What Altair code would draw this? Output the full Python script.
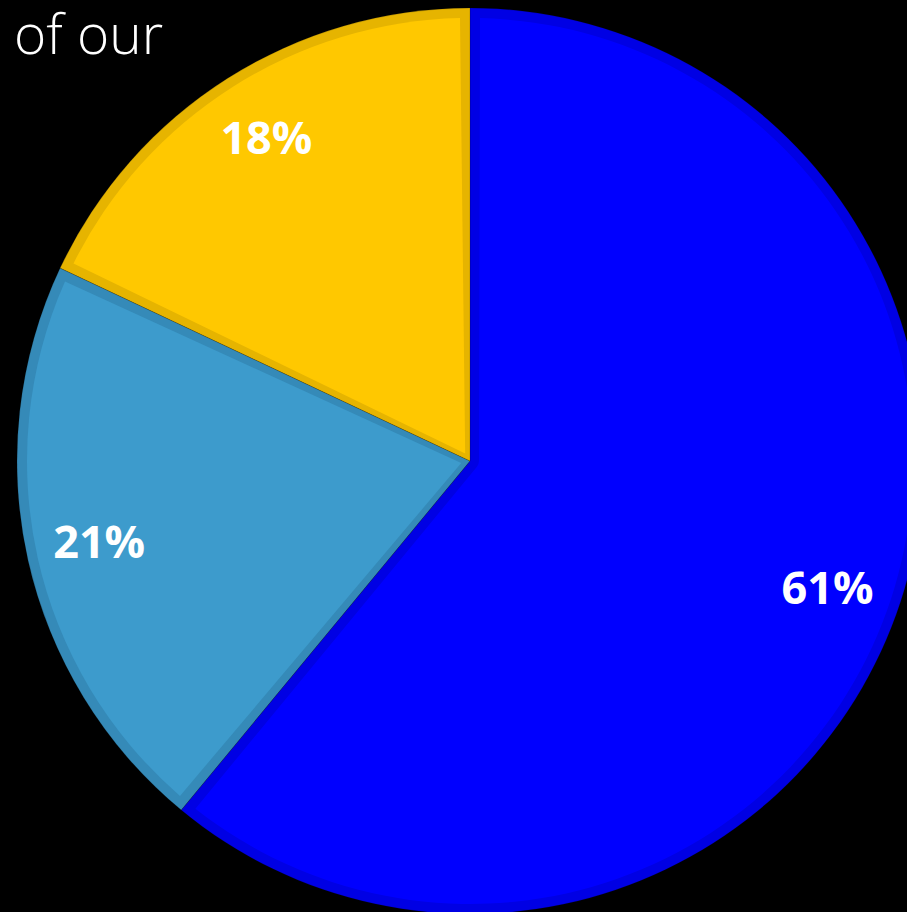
import altair as alt
import pandas as pd

# Pie slices, clockwise from 12 o'clock
categories = ["Segment A", "Segment B", "Segment C"]
shares = [61, 21, 18]
fill_colors = ["#0000FF", "#3D9BCC", "#FFC800"]
edge_colors = ["#0000E4", "#358AB8", "#E6B400"]
heading = "of our"

df = pd.DataFrame({
    "category": categories,
    "share": shares,
    "order": list(range(len(categories))),
    "label": [f"{v}%" for v in shares],
    "fill": fill_colors,
    "edge": edge_colors,
})

W, H = 907, 912
CX, CY = 470, 461
R = 453
INSET = 10

theta = alt.Theta("share:Q", stack=True)
order = alt.Order("order:Q")
cx = alt.value(CX)
cy = alt.value(CY)

base = alt.Chart(df)

# darker rim: full-size slices in the edge shade
rim = base.mark_arc(outerRadius=R, stroke="#000000", strokeOpacity=0.15, strokeWidth=1).encode(
    theta=theta,
    order=order,
    x=cx,
    y=cy,
    fill=alt.Fill("edge:N", scale=None),
)

# inner fill: slices inset from every edge
inner = base.mark_arc(outerRadius=R - INSET, innerRadius=9, padAngle=2 * INSET / (R - INSET)).encode(
    theta=theta,
    order=order,
    x=cx,
    y=cy,
    fill=alt.Fill("fill:N", scale=None),
)

labels = base.mark_text(
    radius=380, font="Open Sans", fontWeight="bold", fontSize=45, color="white",
    align="center", baseline="middle",
).encode(
    theta=theta,
    order=order,
    x=cx,
    y=cy,
    text="label:N",
)

title = alt.Chart(pd.DataFrame({"t": [heading]})).mark_text(
    font="Open Sans", fontWeight=300, fontSize=55, color="white",
    align="left", baseline="alphabetic",
).encode(x=alt.value(14), y=alt.value(54), text="t:N")

chart = alt.layer(rim, inner, labels, title).properties(
    width=W, height=H, background="#000000", padding=0,
    autosize=alt.AutoSizeParams(type="none"),
).configure_view(stroke=None)

chart.save("out.html", embed_options={"renderer": "svg", "actions": False})
